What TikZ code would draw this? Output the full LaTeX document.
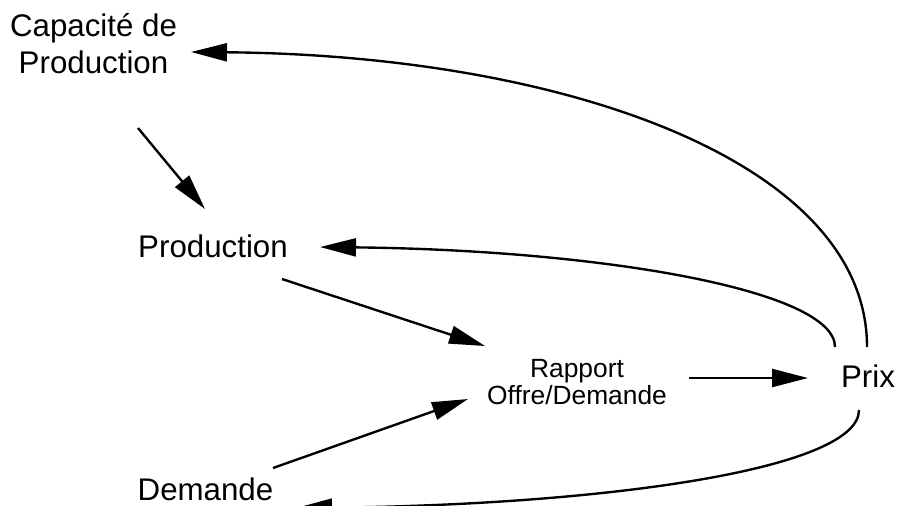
\documentclass[tikz,border=0pt]{standalone}
\usepackage{fontspec}
\setmainfont{Liberation Sans}
\usepackage{tikz}
\usetikzlibrary{arrows.meta}

\begin{document}
\begin{tikzpicture}[x=0.02cm, y=-0.02cm,
    every text node part/.style={align=center},
    label/.style={inner sep=0pt, font=\fontsize{17.8}{21}\selectfont},
    smalllabel/.style={inner sep=0pt, font=\fontsize{15}{15.4}\selectfont},
    link/.style={line width=1.35pt, -{Triangle[length=7.2mm, width=3.6mm]}}]

    \useasboundingbox (0,0) rectangle (898,505);

    % Capacity node, top left
    \node[label] (capacite) at (93.5,44) {Capacité de \\ Production};

    % Production
    \node[label] (production) at (213,246.5) {Production};

    % Supply / demand ratio
    \node[smalllabel] (rapport) at (577,382) {Rapport \\ Offre/Demande};

    % Price
    \node[label] (prix) at (868,376) {Prix};

    % Demand, bottom left
    \node[label] (demande) at (205.5,489) {Demande};

    % Straight links
    \draw[link] ([shift={(44.5,84)}]capacite.center) -- ([shift={(-8,-37.5)}]production.center);
    \draw[link] ([shift={(69,32.5)}]production.center) -- ([shift={(-92,-36)}]rapport.center);
    \draw[link] ([shift={(67.5,-21)}]demande.center) -- ([shift={(-109,17)}]rapport.center);
    \draw[link] ([shift={(112,-4)}]rapport.center) -- ([shift={(-60,2)}]prix.center);

    % Feedback from price
    \draw[link] ([shift={(-33,-29)}]prix.center) .. controls +(0,-57) and +(280,3) .. ([shift={(107,0.5)}]production.center);
    \draw[link] ([shift={(-1,-29)}]prix.center) .. controls +(0,-187) and +(369,3) .. ([shift={(97.5,8)}]capacite.center);
    \draw[link] ([shift={(-9,34)}]prix.center) .. controls +(0,60) and +(304,-3) .. ([shift={(90.5,19)}]demande.center);

\end{tikzpicture}
\end{document}
